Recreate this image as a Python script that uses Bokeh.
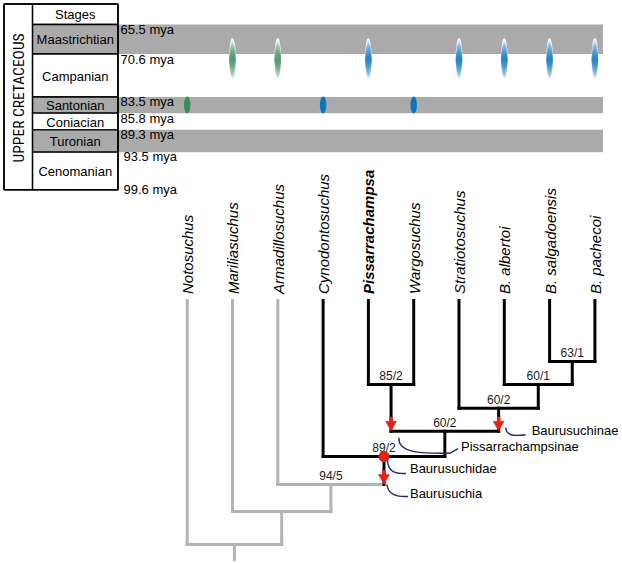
from bokeh.plotting import figure
from bokeh.models import Range1d
from bokeh.core.properties import value
from bokeh.embed import file_html
from bokeh.resources import INLINE

# ---------------- data ----------------
taxa = ["Notosuchus", "Mariliasuchus", "Armadillosuchus", "Cynodontosuchus",
        "Pissarrachampsa", "Wargosuchus", "Stratiotosuchus",
        "B. albertoi", "B. salgadoensis", "B. pachecoi"]
bold_taxa = ["Pissarrachampsa"]

# clades of the tree: id, two children, support (bootstrap/Bremer), rank above tips
clade_ids = ["n63", "n60a", "n85", "n60b", "n60c", "n89", "n94", "nMar", "root"]
clade_children = [("B. salgadoensis", "B. pachecoi"), ("B. albertoi", "n63"),
                  ("Pissarrachampsa", "Wargosuchus"), ("Stratiotosuchus", "n60a"),
                  ("n85", "n60b"), ("Cynodontosuchus", "n60c"),
                  ("Armadillosuchus", "n89"), ("Mariliasuchus", "n94"),
                  ("Notosuchus", "nMar")]
clade_support = ["63/1", "60/1", "85/2", "60/2", "60/2", "89/2", "94/5", "", ""]
clade_rank = [1, 2, 2, 3, 4, 5, 6, 7, 8]
highlight_clade = "n89"   # Baurusuchidae drawn in black

named_clades = ["Baurusuchinae", "Pissarrachampsinae", "Baurusuchidae", "Baurusuchia"]
named_clade_node = ["n60b", "n85", "n89", "n89"]
named_clade_kind = ["stem", "stem", "node", "stem"]

period_label = "UPPER CRETACEOUS"
header_label = "Stages"
stages = ["Maastrichtian", "Campanian", "Santonian", "Coniacian", "Turonian", "Cenomanian"]
stage_shaded = [True, False, True, False, True, False]
boundary_labels = ["65.5 mya", "70.6 mya", "83.5 mya", "85.8 mya", "89.3 mya",
                   "93.5 mya", "99.6 mya"]

# occurrence of each taxon: stage, or an uncertain Campanian-Maastrichtian range
occurrence = ["Santonian", "Campanian-Maastrichtian", "Campanian-Maastrichtian",
              "Santonian", "Campanian-Maastrichtian", "Santonian",
              "Campanian-Maastrichtian", "Campanian-Maastrichtian",
              "Campanian-Maastrichtian", "Campanian-Maastrichtian"]

# ---------------- layout / style ----------------
FONT = "Liberation Sans"
GRAY_BAND = "#aaaaaa"
TREE_GRAY = "#b3b3b3"
RED = "#e2231a"
NAVY = "#27266e"
GREEN = "#3b8d5e"
BLUE = "#0b76c0"

TABLE_L, TABLE_DIV, TABLE_R, BAND_R = 3.5, 32.0, 117.5, 602.5
ROW_EDGES = [3.5, 24.0, 53.5, 96.5, 112.7, 129.3, 151.7, 189.3]
MYA_X = [120, 120, 120, 120, 120, 123, 123]
MYA_DY = [5, 5.5, 4.5, 5.5, 4.5, 4.5, 0]

TIP_X0, TIP_DX = 186.7, 45.3
LEVEL_Y = [300, 361, 384, 407.7, 430.7, 456, 484, 511, 544]
ROOT_END = 559
LABEL_BASE_Y = 293.5

W, H = 622, 563
p = figure(width=W, height=H, x_range=Range1d(0, W), y_range=Range1d(H, 0),
           output_backend="svg", toolbar_location=None, min_border=0,
           x_axis_location=None, y_axis_location=None)
p.grid.visible = False
p.outline_line_color = None

# ---------- stratigraphic table ----------
stage_rows = list(zip(ROW_EDGES[1:-1], ROW_EDGES[2:]))
for (top, bot), sh in zip(stage_rows, stage_shaded):
    if sh:
        p.quad(left=TABLE_R, right=BAND_R, top=top, bottom=bot,
               fill_color=GRAY_BAND, line_color=None)
p.quad(left=[TABLE_DIV], right=[TABLE_R], top=[ROW_EDGES[0]], bottom=[ROW_EDGES[1]],
       fill_color="white", line_color="black", line_width=1.3)
p.quad(left=[TABLE_DIV] * len(stages), right=[TABLE_R] * len(stages),
       top=[r[0] for r in stage_rows], bottom=[r[1] for r in stage_rows],
       fill_color=[GRAY_BAND if s else "white" for s in stage_shaded],
       line_color="black", line_width=1.3)
p.quad(left=[TABLE_L], right=[TABLE_DIV], top=[ROW_EDGES[0]], bottom=[ROW_EDGES[-1]],
       fill_color=None, line_color="black", line_width=1.3)
p.quad(left=[TABLE_L], right=[TABLE_R], top=[ROW_EDGES[0]], bottom=[ROW_EDGES[-1]],
       fill_color=None, line_color="black", line_width=1.6)

cx = (TABLE_DIV + TABLE_R) / 2
p.text(x=[cx], y=[(ROW_EDGES[0] + ROW_EDGES[1]) / 2 + 0.5], text=[header_label],
       text_align="center", text_baseline="middle", text_font=value(FONT),
       text_font_size="13px", text_color="black")
p.text(x=[cx] * len(stages), y=[(a + b) / 2 + 0.5 for a, b in stage_rows], text=stages,
       text_align="center", text_baseline="middle", text_font=value(FONT),
       text_font_size="13px", text_color="black")
p.text(x=[(TABLE_L + TABLE_DIV) / 2 + 0.5], y=[(ROW_EDGES[0] + ROW_EDGES[-1]) / 2 + 1],
       text=[period_label], angle=1.5708, text_align="center", text_baseline="middle",
       text_font=value("Roboto Condensed, Liberation Sans Narrow, Liberation Sans"),
       text_font_size="15.5px", text_color="black")
p.text(x=MYA_X, y=[e + d for e, d in zip(ROW_EDGES[1:], MYA_DY)], text=boundary_labels,
       text_align="left", text_baseline="middle", text_font=value(FONT),
       text_font_size="13px", text_color="black")

# ---------- tree geometry ----------
node_x = {t: TIP_X0 + i * TIP_DX for i, t in enumerate(taxa)}
node_y = {t: LEVEL_Y[0] for t in taxa}
parent = {}
children = {}
for cid, ch, rk in zip(clade_ids, clade_children, clade_rank):
    node_x[cid] = (node_x[ch[0]] + node_x[ch[1]]) / 2
    node_y[cid] = LEVEL_Y[rk]
    children[cid] = ch
    for c in ch:
        parent[c] = cid

black = set()
def collect(n):
    black.add(n)
    for c in children.get(n, ()):
        collect(c)
collect(highlight_clade)

segs = {"gray": ([], [], [], []), "black": ([], [], [], [])}
def add(col, x0, y0, x1, y1):
    s = segs[col]
    s[0].append(x0); s[1].append(y0); s[2].append(x1); s[3].append(y1)

for n, par in parent.items():
    add("black" if n in black else "gray", node_x[n], node_y[n], node_x[n], node_y[par])
for cid, ch in children.items():
    add("black" if cid in black else "gray", node_x[ch[0]], node_y[cid],
        node_x[ch[1]], node_y[cid])
add("gray", node_x["root"], node_y["root"], node_x["root"], ROOT_END)

for col, lc in (("gray", TREE_GRAY), ("black", "black")):
    x0, y0, x1, y1 = segs[col]
    p.segment(x0=x0, y0=y0, x1=x1, y1=y1, line_color=lc, line_width=3,
              line_cap="square")

# support values
sup = [(node_x[c], node_y[c] - 8.5, s) for c, s in zip(clade_ids, clade_support) if s]
p.text(x=[a[0] for a in sup], y=[a[1] for a in sup], text=[a[2] for a in sup],
       text_align="center", text_baseline="middle", text_font=value(FONT),
       text_font_size="12px", text_color="#222222")

# taxon labels
for t in taxa:
    p.text(x=[node_x[t] + 0.5], y=[LABEL_BASE_Y], text=[t], angle=1.5708,
           text_align="left", text_baseline="middle", text_font=value(FONT),
           text_font_size="15px",
           text_font_style="bold italic" if t in bold_taxa else "italic",
           text_color="black")

# ---------- occurrences ----------
maas_camp = ROW_EDGES[2]
sant_mid = (ROW_EDGES[3] + ROW_EDGES[4]) / 2
for t, occ in zip(taxa, occurrence):
    colr = BLUE if t in black else GREEN
    x = node_x[t]
    if occ == "Santonian":
        p.ellipse(x=[x], y=[sant_mid], width=6.5, height=17, fill_color=colr,
                  line_color=None)
    else:
        yc = maas_camp + 5.5
        p.ellipse(x=[x], y=[yc], width=6.8, height=43, fill_color="white",
                  line_color=None)
        steps = 11
        for k in range(steps):
            h = 38 * (1 - k / steps)
            p.ellipse(x=[x], y=[yc], width=6.5, height=h, fill_color=colr,
                      fill_alpha=0.17, line_color=None)

# ---------- clade markers ----------
curves = {
    "Baurusuchinae": dict(c=[(7, -1), (8, 7), (14, 7.5), (27, 6)], tail=None, t=(33, 2)),
    "Pissarrachampsinae": dict(c=[(8, 9), (6, 25), (34, 25), (59, 24.5)], tail=(67, 20), t=(70, 18)),
    "Baurusuchidae": dict(c=[(3.5, 4), (4, 16), (12, 17.5), (22, 17)], tail=None, t=(26, 12)),
    "Baurusuchia": dict(c=[(3, 2.5), (4, 13.5), (14, 15), (24, 14.5)], tail=None, t=(26, 11.5)),
}
for name, nid, kind in zip(named_clades, named_clade_node, named_clade_kind):
    ax = node_x[nid]
    if kind == "stem":
        tip = node_y[parent[nid]] - 2.5
        p.segment(x0=[ax], y0=[tip - 12], x1=[ax], y1=[tip - 5], line_color=RED,
                  line_width=3.5)
        p.scatter(x=[ax], y=[tip - 4.2], marker="inverted_triangle", size=11,
                  fill_color=RED, line_color=RED, line_width=0.5)
        ay = tip
    else:
        ay = node_y[nid]
        p.scatter(x=[ax], y=[ay], marker="circle", size=11, fill_color=RED,
                  line_color=None)
    cv = curves[name]
    (a0, b0), (a1, b1), (a2, b2), (a3, b3) = cv["c"]
    p.bezier(x0=[ax + a0], y0=[ay + b0], cx0=[ax + a1], cy0=[ay + b1],
             cx1=[ax + a2], cy1=[ay + b2], x1=[ax + a3], y1=[ay + b3],
             line_color=NAVY, line_width=1.4)
    if cv["tail"]:
        p.segment(x0=[ax + a3], y0=[ay + b3], x1=[ax + cv["tail"][0]],
                  y1=[ay + cv["tail"][1]], line_color=NAVY, line_width=1.4)
    p.text(x=[ax + cv["t"][0]], y=[ay + cv["t"][1]], text=[name], text_align="left",
           text_baseline="middle", text_font=value(FONT), text_font_size="13px",
           text_color="black")

open("out.html", "w").write(file_html(p, INLINE))
